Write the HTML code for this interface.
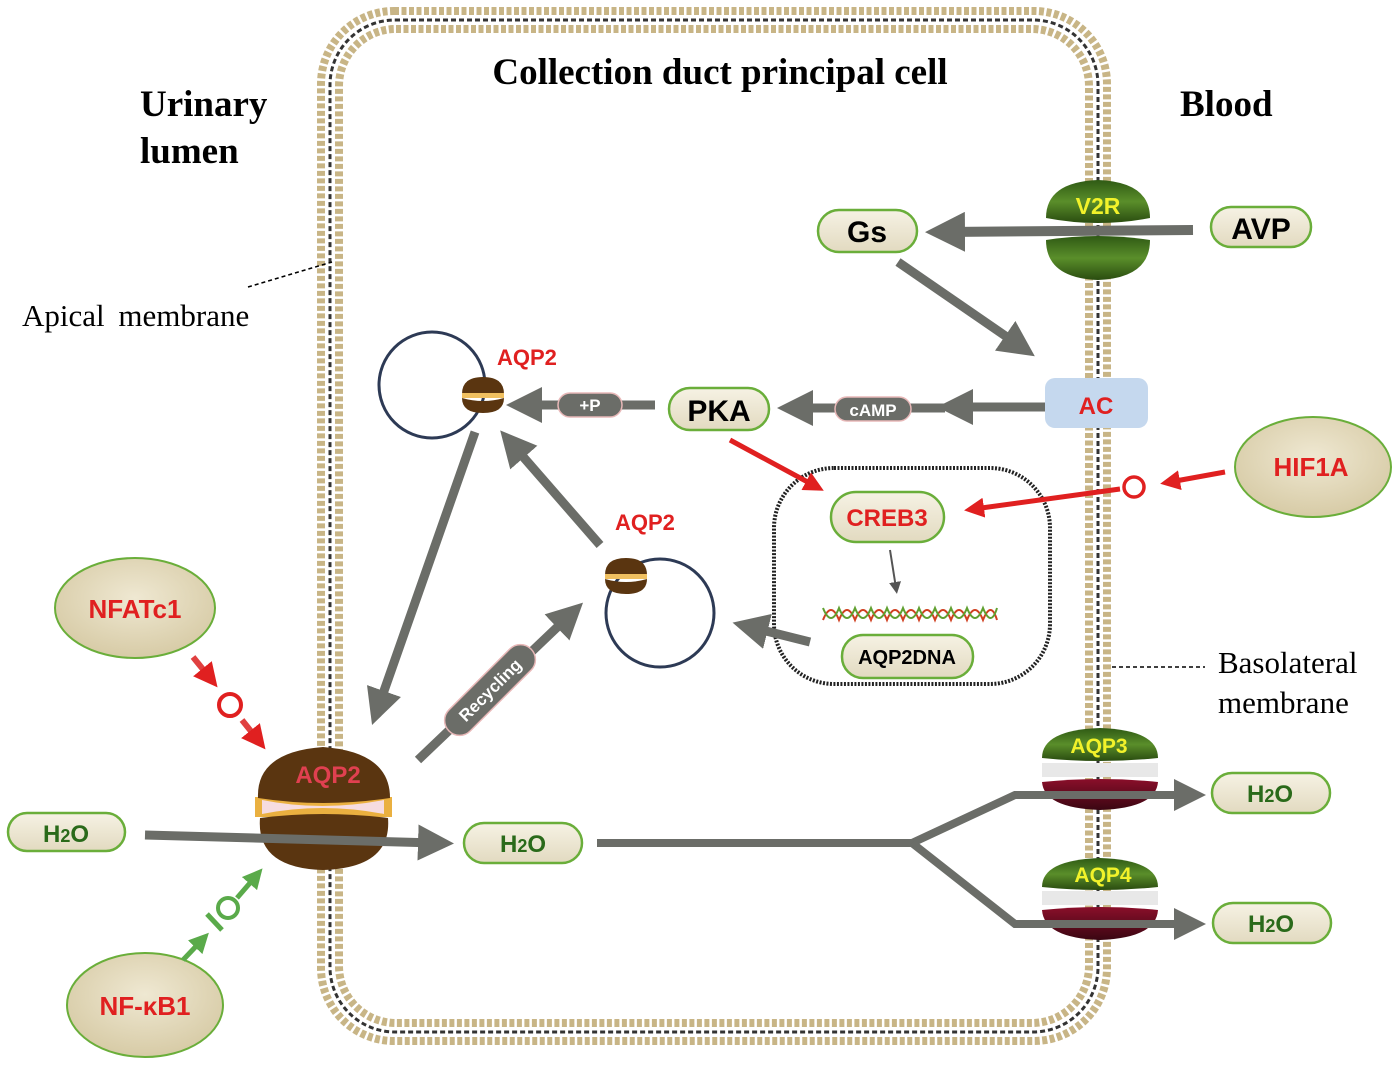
<!DOCTYPE html>
<html><head><meta charset="utf-8"><style>
html,body{margin:0;padding:0;background:#fff;}
svg{display:block;}
.s{font-family:"Liberation Serif",serif;}
.a{font-family:"Liberation Sans",sans-serif;font-weight:bold;}
</style></head><body>
<svg width="1399" height="1066" viewBox="0 0 1399 1066" xmlns="http://www.w3.org/2000/svg">
<defs>
<linearGradient id="cr" x1="0" y1="0" x2="0" y2="1"><stop offset="0" stop-color="#f6f2e4"/><stop offset="1" stop-color="#e2dac0"/></linearGradient>
<radialGradient id="el" cx="0.5" cy="0.4" r="0.6"><stop offset="0" stop-color="#efe8d2"/><stop offset="1" stop-color="#d7cba6"/></radialGradient>
<linearGradient id="gr" x1="0" y1="0" x2="0" y2="1"><stop offset="0" stop-color="#2f5a14"/><stop offset="0.5" stop-color="#5a8e2a"/><stop offset="1" stop-color="#2a4c10"/></linearGradient>
<linearGradient id="mr" x1="0" y1="0" x2="0" y2="1"><stop offset="0" stop-color="#8a0f2a"/><stop offset="1" stop-color="#3a0612"/></linearGradient>
<marker id="ag" markerWidth="4" markerHeight="4" refX="2" refY="2" orient="auto" markerUnits="strokeWidth"><path d="M0,0 L4,2 L0,4 Z" fill="#6b6d68"/></marker>
<marker id="ar" markerWidth="4" markerHeight="4" refX="2" refY="2" orient="auto" markerUnits="strokeWidth"><path d="M0,0 L4,2 L0,4 Z" fill="#e02020"/></marker>
<marker id="agr" markerWidth="4" markerHeight="4" refX="2" refY="2" orient="auto" markerUnits="strokeWidth"><path d="M0,0 L4,2 L0,4 Z" fill="#5aaa4a"/></marker>
<marker id="as" markerWidth="6" markerHeight="6" refX="3" refY="3" orient="auto" markerUnits="strokeWidth"><path d="M0,0 L6,3 L0,6 Z" fill="#555"/></marker>
</defs>

<!-- membrane -->
<rect x="321" y="11" width="786" height="1030" rx="73" fill="none" stroke="#c8b586" stroke-width="8" stroke-dasharray="5 2.5"/>
<rect x="339" y="29" width="750" height="994" rx="57" fill="none" stroke="#c8b586" stroke-width="8" stroke-dasharray="5 2.5"/>
<rect x="330" y="20" width="768" height="1012" rx="65" fill="none" stroke="#333" stroke-width="3" stroke-dasharray="5 3"/>

<!-- titles -->
<text x="720" y="84" text-anchor="middle" class="s" font-size="37" font-weight="bold">Collection duct principal cell</text>
<text x="140" y="116" class="s" font-size="37" font-weight="bold">Urinary</text>
<text x="140" y="163" class="s" font-size="37" font-weight="bold">lumen</text>
<text x="1180" y="116" class="s" font-size="37" font-weight="bold">Blood</text>
<text x="22" y="326" class="s" font-size="31" word-spacing="6">Apical membrane</text>
<line x1="248" y1="287" x2="332" y2="262" stroke="#000" stroke-width="1.5" stroke-dasharray="4 3"/>
<text x="1218" y="673" class="s" font-size="31">Basolateral</text>
<text x="1218" y="713" class="s" font-size="31">membrane</text>
<line x1="1112" y1="667" x2="1205" y2="667" stroke="#000" stroke-width="1.5" stroke-dasharray="4 3"/>

<!-- nucleus -->
<rect x="774" y="468" width="276" height="216" rx="60" fill="none" stroke="#222" stroke-width="4" stroke-dasharray="2 1.5"/>

<!-- V2R -->
<path d="M1046,218 Q1046,182 1098,180 Q1150,182 1150,218 Q1098,228 1046,218 Z" fill="url(#gr)"/>
<path d="M1046,240 Q1098,232 1150,240 Q1150,278 1098,280 Q1046,278 1046,240 Z" fill="url(#gr)"/>
<text x="1098" y="214" text-anchor="middle" class="a" font-size="23" fill="#f2f22a" font-weight="normal">V2R</text>
<line x1="1193" y1="230" x2="945" y2="232" stroke="#6b6d68" stroke-width="10" marker-end="url(#ag)"/>

<!-- AVP, Gs -->
<rect x="1211" y="207" width="100" height="40" rx="20" fill="url(#cr)" stroke="#6aae3a" stroke-width="2.5"/>
<text x="1261" y="239" text-anchor="middle" class="a" font-size="30">AVP</text>
<rect x="818" y="210" width="99" height="42" rx="21" fill="url(#cr)" stroke="#6aae3a" stroke-width="2.5"/>
<text x="867" y="242" text-anchor="middle" class="a" font-size="30">Gs</text>
<line x1="898" y1="262" x2="1020" y2="346" stroke="#6b6d68" stroke-width="9" marker-end="url(#ag)"/>

<!-- AC -->
<rect x="1045" y="378" width="103" height="50" rx="10" fill="#c5d8ee"/>
<text x="1096" y="414" text-anchor="middle" class="a" font-size="24" fill="#e02020" font-weight="normal">AC</text>
<line x1="1045" y1="407" x2="955" y2="407" stroke="#6b6d68" stroke-width="9" marker-end="url(#ag)"/>
<line x1="945" y1="408" x2="795" y2="408" stroke="#6b6d68" stroke-width="9" marker-end="url(#ag)"/>
<rect x="835" y="397" width="76" height="24" rx="12" fill="#6b6d68" stroke="#e8b8b8" stroke-width="1.5"/>
<text x="873" y="416" text-anchor="middle" class="a" font-size="17" fill="#fff" font-weight="normal">cAMP</text>

<!-- PKA -->
<rect x="669" y="388" width="100" height="42" rx="21" fill="url(#cr)" stroke="#6aae3a" stroke-width="2.5"/>
<text x="719" y="421" text-anchor="middle" class="a" font-size="30">PKA</text>
<line x1="655" y1="405" x2="524" y2="405" stroke="#6b6d68" stroke-width="9" marker-end="url(#ag)"/>
<rect x="558" y="393" width="64" height="24" rx="12" fill="#6b6d68" stroke="#e8b8b8" stroke-width="1.5"/>
<text x="590" y="411" text-anchor="middle" class="a" font-size="17" fill="#fff" font-weight="normal">+P</text>

<!-- vesicle 1 -->
<circle cx="432" cy="385" r="53" fill="none" stroke="#2d3a55" stroke-width="3"/>
<path d="M462,394 Q462,377 483,377 Q504,377 504,394 Z" fill="#5a3510"/>
<path d="M462,398 Q483,404 504,398 Q504,413 483,413 Q462,413 462,398 Z" fill="#5a3510"/>
<rect x="462" y="393" width="42" height="5" fill="#f0c060"/>
<text x="497" y="365" class="a" font-size="22" fill="#e02020" font-weight="normal">AQP2</text>

<!-- vesicle 2 -->
<circle cx="660" cy="613" r="54" fill="none" stroke="#2d3a55" stroke-width="3"/>
<path d="M605,575 Q605,558 626,558 Q647,558 647,575 Z" fill="#5a3510"/>
<path d="M605,579 Q626,585 647,579 Q647,594 626,594 Q605,594 605,579 Z" fill="#5a3510"/>
<rect x="605" y="574" width="42" height="5" fill="#f0c060"/>
<text x="615" y="530" class="a" font-size="22" fill="#e02020" font-weight="normal">AQP2</text>

<line x1="600" y1="545" x2="512" y2="444" stroke="#6b6d68" stroke-width="9" marker-end="url(#ag)"/>
<line x1="475" y1="432" x2="378" y2="708" stroke="#6b6d68" stroke-width="9" marker-end="url(#ag)"/>
<line x1="418" y1="760" x2="570" y2="615" stroke="#6b6d68" stroke-width="9" marker-end="url(#ag)"/>
<g transform="translate(490,690) rotate(-45)">
<rect x="-58" y="-15" width="116" height="30" rx="15" fill="#6b6d68" stroke="#e8b8b8" stroke-width="1.5"/>
<text x="0" y="6" text-anchor="middle" class="a" font-size="17" fill="#fff" font-weight="normal">Recycling</text>
</g>
<line x1="810" y1="642" x2="750" y2="627" stroke="#6b6d68" stroke-width="9" marker-end="url(#ag)"/>

<!-- CREB3 / DNA -->
<rect x="831" y="492" width="113" height="50" rx="25" fill="url(#cr)" stroke="#6aae3a" stroke-width="2.5"/>
<text x="887" y="526" text-anchor="middle" class="a" font-size="24" fill="#e02020" font-weight="normal">CREB3</text>
<line x1="890" y1="550" x2="896" y2="588" stroke="#555" stroke-width="2" marker-end="url(#as)"/>
<path d="M823,620 Q831,600 839,620 Q847,600 855,620 Q863,600 871,620 Q879,600 887,620 Q895,600 903,620 Q911,600 919,620 Q927,600 935,620 Q943,600 951,620 Q959,600 967,620 Q975,600 983,620 Q991,600 997,620" fill="none" stroke="#d04020" stroke-width="2"/>
<path d="M823,608 Q831,628 839,608 Q847,628 855,608 Q863,628 871,608 Q879,628 887,608 Q895,628 903,608 Q911,628 919,608 Q927,628 935,608 Q943,628 951,608 Q959,628 967,608 Q975,628 983,608 Q991,628 997,608" fill="none" stroke="#60a030" stroke-width="2"/>
<rect x="842" y="635" width="131" height="43" rx="21" fill="url(#cr)" stroke="#6aae3a" stroke-width="2.5"/>
<text x="907" y="664" text-anchor="middle" class="a" font-size="20">AQP2DNA</text>
<line x1="730" y1="440" x2="815" y2="486" stroke="#e02020" stroke-width="5" marker-end="url(#ar)"/>

<!-- HIF1A -->
<ellipse cx="1313" cy="467" rx="78" ry="50" fill="url(#el)" stroke="#6aae3a" stroke-width="2"/>
<text x="1311" y="476" text-anchor="middle" class="a" font-size="26" fill="#e02020" font-weight="normal">HIF1A</text>
<line x1="1225" y1="472" x2="1170" y2="482" stroke="#e02020" stroke-width="5" marker-end="url(#ar)"/>
<circle cx="1134" cy="487" r="10" fill="none" stroke="#e02020" stroke-width="3.5"/>
<line x1="1120" y1="489" x2="974" y2="509" stroke="#e02020" stroke-width="5" marker-end="url(#ar)"/>

<!-- NFATc1 -->
<ellipse cx="135" cy="608" rx="80" ry="50" fill="url(#el)" stroke="#6aae3a" stroke-width="2"/>
<text x="135" y="618" text-anchor="middle" class="a" font-size="26" fill="#e02020" font-weight="normal">NFATc1</text>
<line x1="193" y1="657" x2="210" y2="678" stroke="#e04040" stroke-width="6" marker-end="url(#ar)"/>
<circle cx="230" cy="705" r="11" fill="none" stroke="#e02020" stroke-width="4"/>
<line x1="242" y1="720" x2="258" y2="740" stroke="#e04040" stroke-width="6" marker-end="url(#ar)"/>

<!-- NF-kB1 -->
<ellipse cx="145" cy="1005" rx="78" ry="52" fill="url(#el)" stroke="#6aae3a" stroke-width="2"/>
<text x="145" y="1015" text-anchor="middle" class="a" font-size="26" fill="#e02020" font-weight="normal">NF-κB1</text>
<line x1="183" y1="960" x2="202" y2="940" stroke="#5aaa4a" stroke-width="5" marker-end="url(#agr)"/>
<line x1="207" y1="914" x2="222" y2="930" stroke="#5aaa4a" stroke-width="5"/>
<circle cx="228" cy="908" r="10" fill="none" stroke="#5aaa4a" stroke-width="4"/>
<line x1="237" y1="898" x2="256" y2="876" stroke="#5aaa4a" stroke-width="5" marker-end="url(#agr)"/>

<!-- big AQP2 -->
<rect x="255" y="797" width="137" height="20" fill="#eab040"/>
<path d="M262,800 Q322,812 384,800 L384,814 Q322,802 262,814 Z" fill="#f6dce0"/>
<path d="M258,798 Q256,752 323,747 Q390,752 390,798 Q323,808 258,798 Z" fill="#5a3510"/>
<path d="M260,818 Q323,810 388,818 Q392,868 323,870 Q256,868 260,818 Z" fill="#5a3510"/>
<text x="328" y="783" text-anchor="middle" class="a" font-size="24" fill="#e04050" font-weight="normal">AQP2</text>

<!-- H2O -->
<rect x="8" y="813" width="117" height="38" rx="19" fill="url(#cr)" stroke="#6aae3a" stroke-width="2.5"/>
<text x="66" y="842" text-anchor="middle" class="a" font-size="24" fill="#2a6a1a" font-weight="normal">H<tspan font-size="18">2</tspan>O</text>
<line x1="145" y1="835" x2="436" y2="843" stroke="#6b6d68" stroke-width="9" marker-end="url(#ag)"/>
<rect x="464" y="823" width="118" height="40" rx="20" fill="url(#cr)" stroke="#6aae3a" stroke-width="2.5"/>
<text x="523" y="852" text-anchor="middle" class="a" font-size="24" fill="#2a6a1a" font-weight="normal">H<tspan font-size="18">2</tspan>O</text>

<!-- AQP3 / AQP4 -->
<path d="M1042,758 Q1042,730 1100,728 Q1158,730 1158,758 Q1100,764 1042,758 Z" fill="url(#gr)"/>
<rect x="1042" y="763" width="116" height="14" fill="#e8e8e8"/>
<path d="M1042,782 Q1100,776 1158,782 Q1156,808 1100,810 Q1044,808 1042,782 Z" fill="url(#mr)"/>
<text x="1099" y="753" text-anchor="middle" class="a" font-size="21" fill="#f2f22a" font-weight="normal">AQP3</text>
<path d="M1042,887 Q1042,860 1100,858 Q1158,860 1158,887 Q1100,893 1042,887 Z" fill="url(#gr)"/>
<rect x="1042" y="891" width="116" height="14" fill="#e8e8e8"/>
<path d="M1042,910 Q1100,904 1158,910 Q1156,938 1100,940 Q1044,938 1042,910 Z" fill="url(#mr)"/>
<text x="1103" y="882" text-anchor="middle" class="a" font-size="21" fill="#f2f22a" font-weight="normal">AQP4</text>

<polyline points="597,843 912,843 1015,795 1190,795" fill="none" stroke="#6b6d68" stroke-width="8" marker-end="url(#ag)"/>
<polyline points="912,843 1015,924 1190,924" fill="none" stroke="#6b6d68" stroke-width="8" marker-end="url(#ag)"/>

<rect x="1212" y="773" width="118" height="40" rx="20" fill="url(#cr)" stroke="#6aae3a" stroke-width="2.5"/>
<text x="1270" y="802" text-anchor="middle" class="a" font-size="24" fill="#2a6a1a" font-weight="normal">H<tspan font-size="18">2</tspan>O</text>
<rect x="1213" y="903" width="118" height="40" rx="20" fill="url(#cr)" stroke="#6aae3a" stroke-width="2.5"/>
<text x="1271" y="932" text-anchor="middle" class="a" font-size="24" fill="#2a6a1a" font-weight="normal">H<tspan font-size="18">2</tspan>O</text>
</svg>
</body></html>
